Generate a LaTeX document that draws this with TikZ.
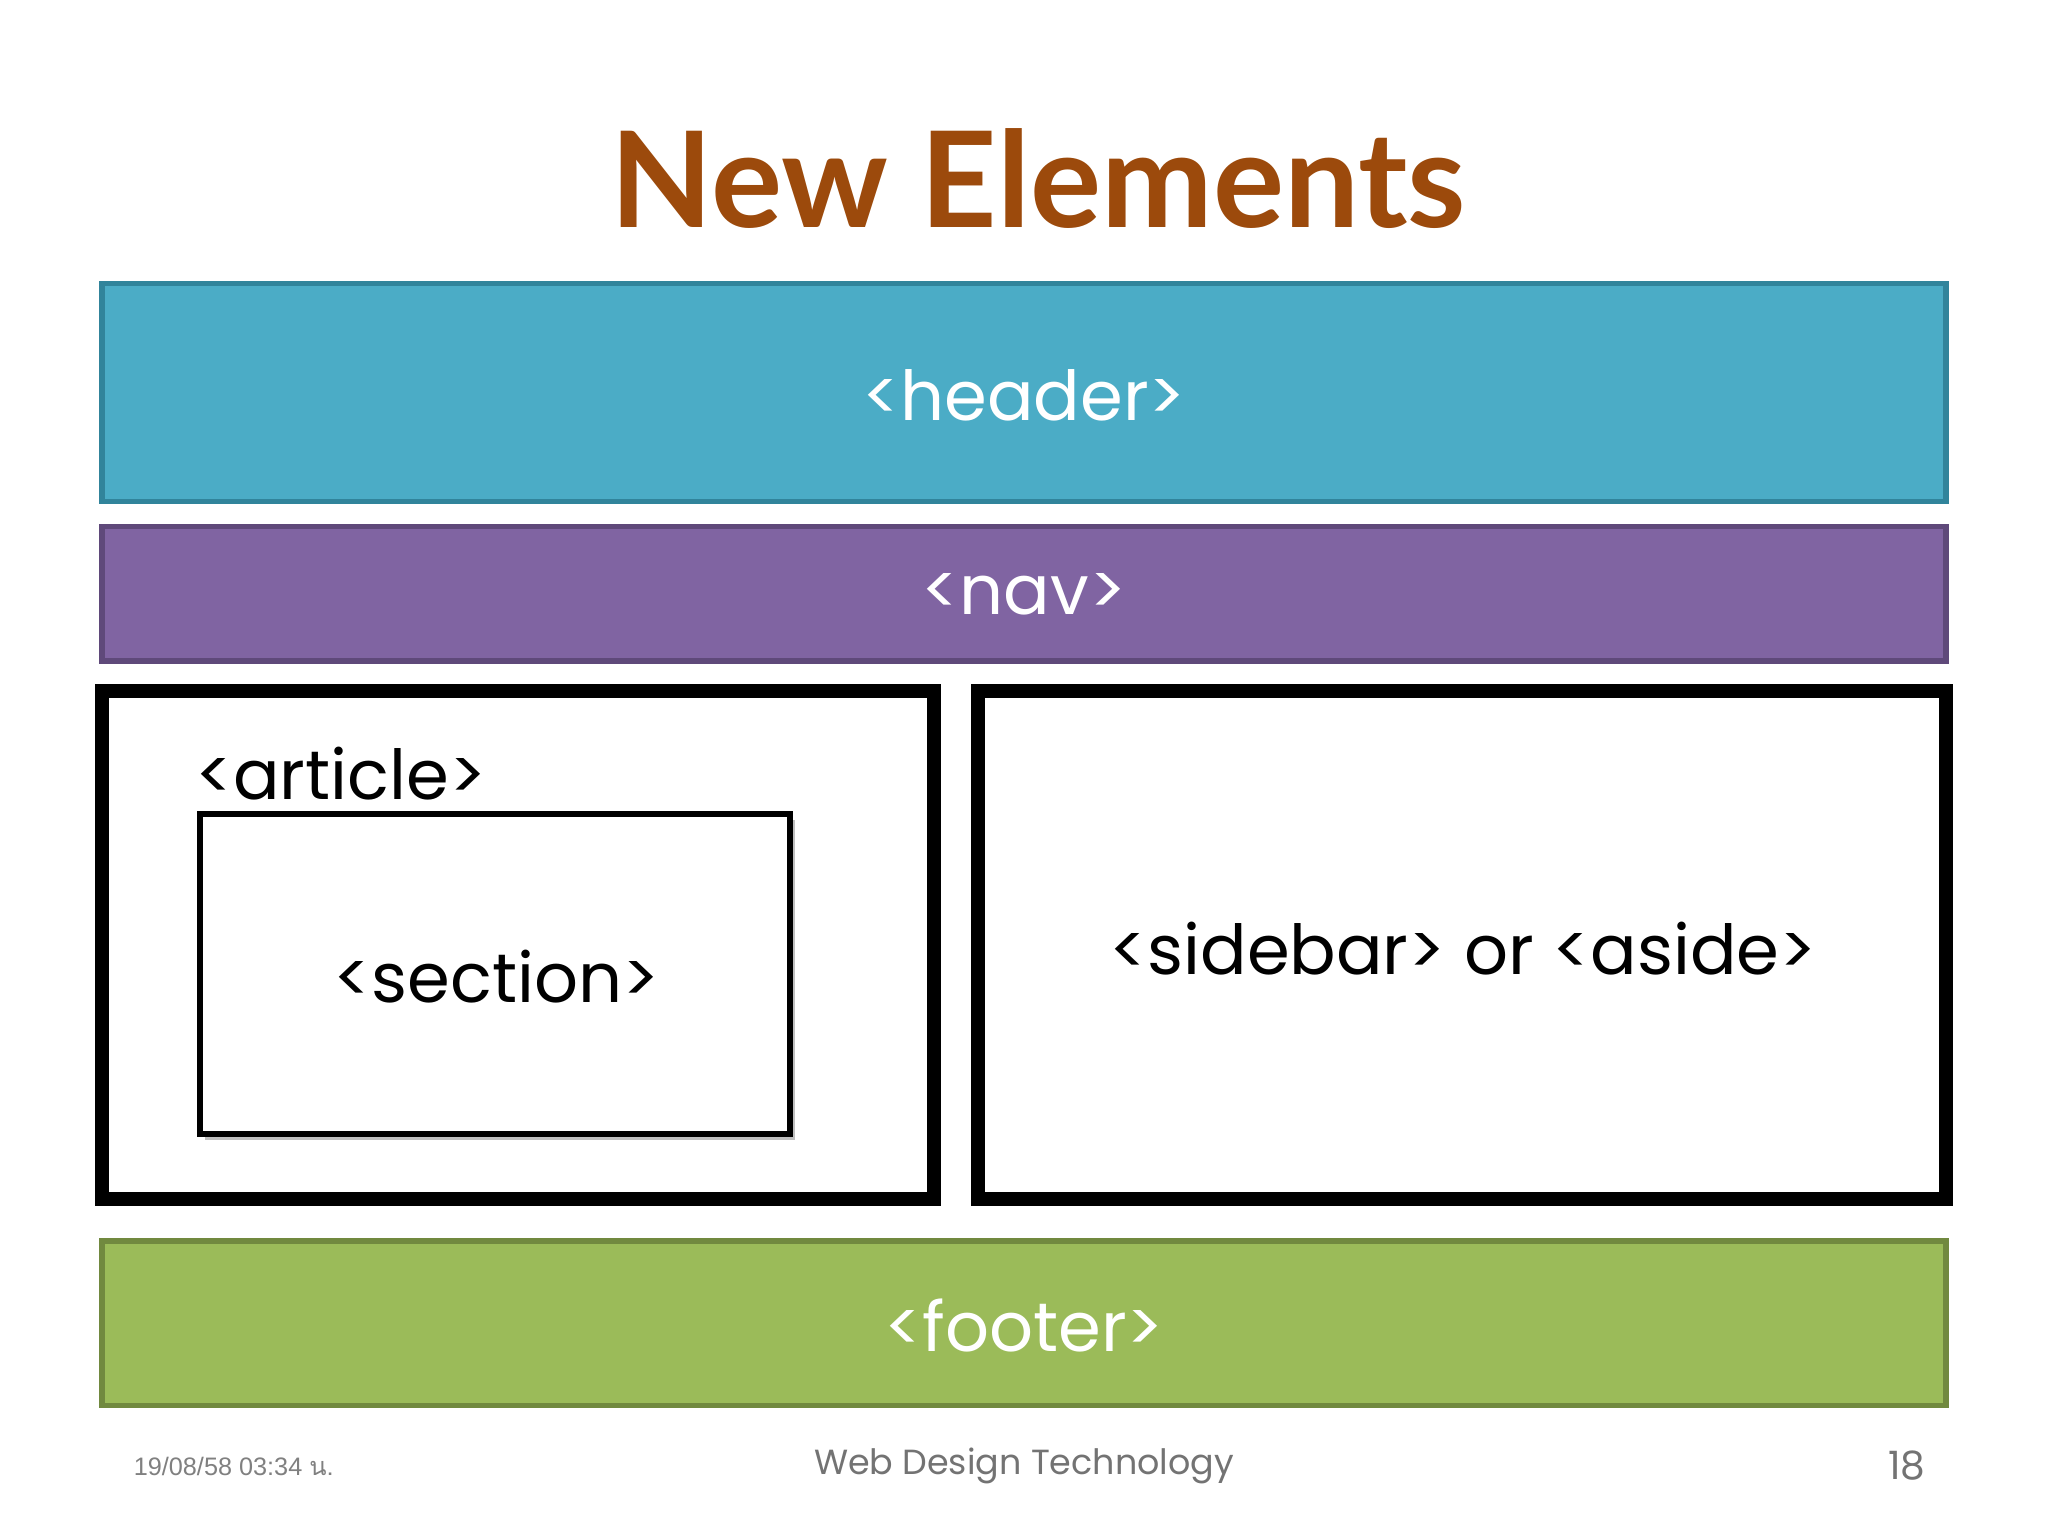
\documentclass[tikz,border=0pt]{standalone}
\usepackage{fontspec}
\setmainfont{Poppins}
\newfontfamily\titlefont{Lato}
\newfontfamily\smallfont{Liberation Sans}
\newfontfamily\thaifont[Script=Thai]{Loma}
\begin{document}
\begin{tikzpicture}[x=0.01cm,y=-0.01cm,
  band/.style={line width=1.2pt},
  lbl/.style={font=\fontsize{15}{18}\selectfont},
  wlbl/.style={lbl,text=white},
  bigbox/.style={draw=black,line width=3pt,fill=white}]
\definecolor{hdr}{HTML}{4BACC6}\definecolor{hdrb}{HTML}{31849B}
\definecolor{nv}{HTML}{8064A2}\definecolor{nvb}{HTML}{5F497A}
\definecolor{ft}{HTML}{9BBB59}\definecolor{ftb}{HTML}{71893F}
\definecolor{ttl}{HTML}{9C4A0C}
\useasboundingbox (0,0) rectangle (1568,1176);
\node[font=\titlefont\bfseries\fontsize{29}{34}\selectfont,text=ttl] (title) at (795,137) {New Elements};
\draw[band,fill=hdr,draw=hdrb] (78,217) rectangle (1490,384);
\node[wlbl] (header) at (784,303) {<header>};
\draw[band,fill=nv,draw=nvb] (78,403) rectangle (1490,506);
\node[wlbl] (nav) at (784,455) {<nav>};
\draw[bigbox] (78,529) rectangle (715,918);
\node[lbl,anchor=base west] (article) at (137,612) {<article>};
\fill[black!25] (157,628) rectangle (609,873);
\draw[draw=black,line width=1.3pt,fill=white] (153,623) rectangle (605,868);
\node[lbl] (section) at (380,748) {<section>};
\draw[bigbox] (749,529) rectangle (1490,918);
\node[lbl] (sidebar) at (1120,726) {<sidebar> or <aside>};
\draw[band,fill=ft,draw=ftb] (78,950) rectangle (1490,1076);
\node[wlbl] (footer) at (784,1015) {<footer>};
\node[anchor=west,text=black!50,font=\smallfont\fontsize{5.5}{7}\selectfont] (date) at (90,1123) {19/08/58 03:34 {\thaifont น.}};
\node[text=black!55,font=\fontsize{7.6}{9}\selectfont] (course) at (784,1122) {Web Design Technology};
\node[text=black!55,font=\fontsize{8.5}{10}\selectfont] (page) at (1460,1122) {18};
\end{tikzpicture}
\end{document}
